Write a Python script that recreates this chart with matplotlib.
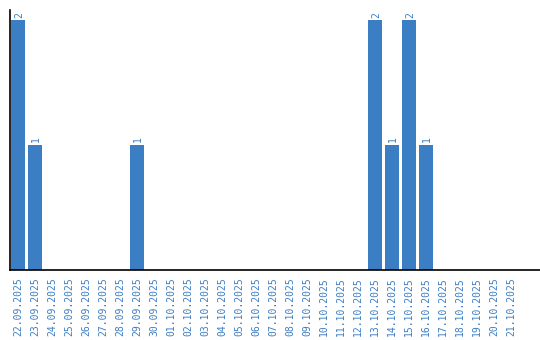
import matplotlib
matplotlib.use("Agg")
import matplotlib.pyplot as plt
import datetime as dt

start = dt.date(2025, 9, 22)
dates = [(start + dt.timedelta(days=i)).strftime("%d.%m.%Y") for i in range(30)]
counts_map = {"22.09.2025": 2, "23.09.2025": 1, "29.09.2025": 1,
              "13.10.2025": 2, "14.10.2025": 1, "15.10.2025": 2, "16.10.2025": 1}
values = [counts_map.get(d, 0) for d in dates]

blue = "#3b7ec4"
fig = plt.figure(figsize=(5.4, 3.4), dpi=100)
ax = fig.add_axes([10/540, 1 - 270/340, 530/540, 260/340])
x = list(range(len(dates)))
bars = ax.bar(x, values, width=0.82, color=blue)
for xi, v in zip(x, values):
    if v > 0:
        ax.text(xi + 0.05, v + 0.02, str(v), rotation=90, ha="center", va="bottom",
                color=blue, fontsize=7, family="DejaVu Sans Mono")
ax.set_xlim(-0.47, 30.7)
ax.set_ylim(0, 2.08)
ax.set_xticks(x)
ax.set_xticklabels(dates, rotation=90, color=blue, fontsize=7, family="DejaVu Sans Mono")
ax.tick_params(axis="x", length=0, pad=5)
ax.set_yticks([])
for s in ["top", "right"]:
    ax.spines[s].set_visible(False)
ax.spines["left"].set_linewidth(1.2)
ax.spines["bottom"].set_linewidth(1.2)
fig.savefig("out.png", dpi=100)
